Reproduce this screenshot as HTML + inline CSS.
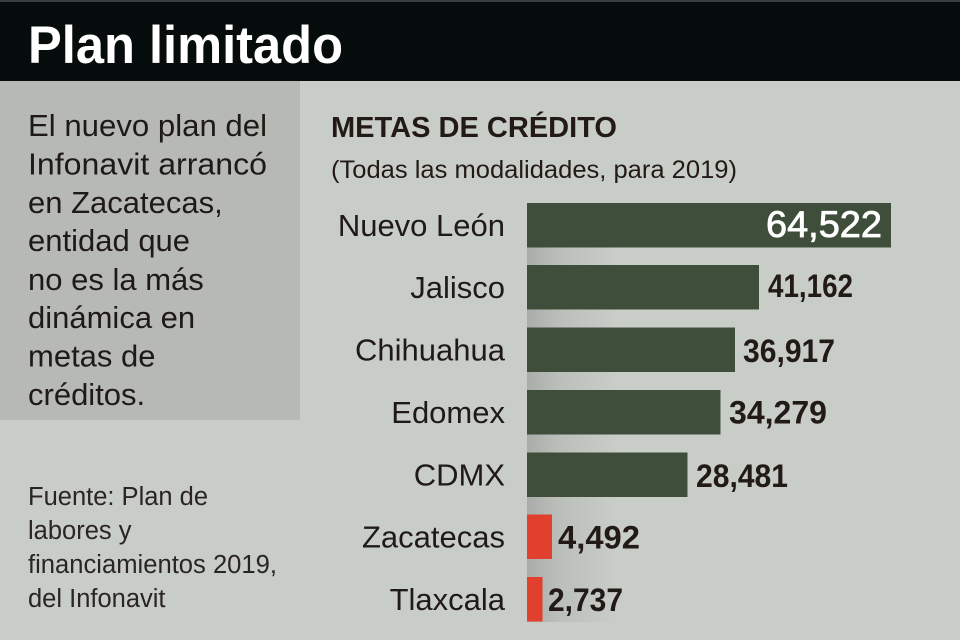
<!DOCTYPE html>
<html>
<head>
<meta charset="utf-8">
<style>
  html,body{margin:0;padding:0;background:#c9cdc8;}
  svg{display:block;}
  text{font-family:"Liberation Sans", sans-serif;}
</style>
</head>
<body>
<svg width="960" height="640" viewBox="0 0 960 640" xmlns="http://www.w3.org/2000/svg">
  <defs>
    <linearGradient id="sh" x1="0" y1="0" x2="1" y2="0">
      <stop offset="0" stop-color="#000" stop-opacity="0.16"/>
      <stop offset="0.35" stop-color="#000" stop-opacity="0.07"/>
      <stop offset="1" stop-color="#000" stop-opacity="0"/>
    </linearGradient>
  </defs>
  <rect x="0" y="0" width="960" height="640" fill="#c9cdc8"/>
  <!-- header -->
  <rect x="0" y="0" width="960" height="81" fill="#060b0b"/>
  <rect x="0" y="0" width="960" height="2" fill="#3a3e3d"/>
  <text x="28" y="63" font-size="53" font-weight="bold" fill="#ffffff" textLength="315" lengthAdjust="spacingAndGlyphs">Plan limitado</text>

  <!-- left box -->
  <rect x="0" y="81" width="300" height="339" fill="#b6b9b4"/>
  <g font-size="31" fill="#1f1a17">
    <text x="28" y="136" textLength="239" lengthAdjust="spacingAndGlyphs">El nuevo plan del</text>
    <text x="28" y="174.5" textLength="239" lengthAdjust="spacingAndGlyphs">Infonavit arrancó</text>
    <text x="28" y="213">en Zacatecas,</text>
    <text x="28" y="251">entidad que</text>
    <text x="28" y="290">no es la más</text>
    <text x="28" y="328">dinámica en</text>
    <text x="28" y="366.5">metas de</text>
    <text x="28" y="405">créditos.</text>
  </g>

  <!-- source -->
  <g font-size="25.5" fill="#2a2523">
    <text x="28" y="505">Fuente: Plan de</text>
    <text x="28" y="539">labores y</text>
    <text x="28" y="573" textLength="249" lengthAdjust="spacingAndGlyphs">financiamientos 2019,</text>
    <text x="28" y="607">del Infonavit</text>
  </g>

  <!-- heading -->
  <text x="331" y="137" font-size="29" font-weight="bold" fill="#231a17" textLength="286" lengthAdjust="spacingAndGlyphs">METAS DE CRÉDITO</text>
  <text x="331" y="178" font-size="25" fill="#231a17" textLength="406" lengthAdjust="spacingAndGlyphs">(Todas las modalidades, para 2019)</text>

  <!-- shadow -->
  <rect x="527" y="203" width="90" height="419" fill="url(#sh)"/>

  <!-- bars -->
  <rect x="527" y="203" width="364" height="44.5" fill="#3f4e3a"/>
  <rect x="527" y="265" width="232" height="44.5" fill="#3f4e3a"/>
  <rect x="527" y="327.5" width="208" height="44.5" fill="#3f4e3a"/>
  <rect x="527" y="390" width="193.5" height="44.5" fill="#3f4e3a"/>
  <rect x="527" y="452.5" width="160.5" height="44.5" fill="#3f4e3a"/>
  <rect x="527" y="514.5" width="25" height="44.5" fill="#e2402f"/>
  <rect x="527" y="577" width="15.5" height="44.5" fill="#e2402f"/>

  <!-- labels -->
  <g font-size="31" fill="#1f1a17" text-anchor="end">
    <text x="505" y="236">Nuevo León</text>
    <text x="505" y="298">Jalisco</text>
    <text x="505" y="360.5">Chihuahua</text>
    <text x="505" y="423">Edomex</text>
    <text x="505" y="485.5">CDMX</text>
    <text x="505" y="547.5">Zacatecas</text>
    <text x="505" y="610">Tlaxcala</text>
  </g>

  <!-- values -->
  <text x="766" y="237" font-size="37" fill="#ffffff" stroke="#ffffff" stroke-width="0.8" textLength="116" lengthAdjust="spacingAndGlyphs">64,522</text>
  <g font-size="32" font-weight="bold" fill="#221a17">
    <text x="768" y="297" textLength="85" lengthAdjust="spacingAndGlyphs">41,162</text>
    <text x="743" y="362" textLength="92" lengthAdjust="spacingAndGlyphs">36,917</text>
    <text x="729" y="423.5" textLength="98" lengthAdjust="spacingAndGlyphs">34,279</text>
    <text x="696" y="487" textLength="92" lengthAdjust="spacingAndGlyphs">28,481</text>
    <text x="558" y="548.5" textLength="82" lengthAdjust="spacingAndGlyphs">4,492</text>
    <text x="548" y="611" textLength="75" lengthAdjust="spacingAndGlyphs">2,737</text>
  </g>
</svg>
</body>
</html>
